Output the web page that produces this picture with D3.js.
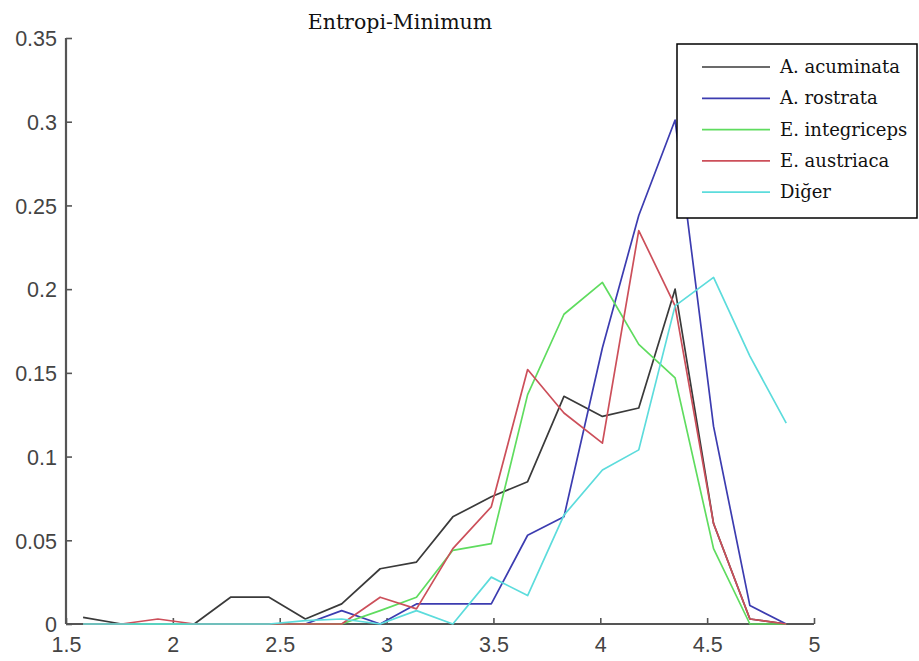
<!DOCTYPE html>
<html><head><meta charset="utf-8">
<script src="https://cdn.jsdelivr.net/npm/d3@7"></script>
<style>body{margin:0;background:#fff}svg{display:block}</style>
</head><body>
<svg id="c" width="919" height="661"></svg>
<script>
const title = "Entropi-Minimum";
const xValues = [1.58,1.76,1.93,2.10,2.27,2.45,2.62,2.79,2.97,3.14,3.31,3.49,3.66,3.83,4.01,4.18,4.35,4.53,4.70,4.87];
const seriesNames = ["A. acuminata","A. rostrata","E. integriceps","E. austriaca","Diğer"];
const seriesColors = ["#3a3a3a","#3c3cb0","#5fdc5f","#cc4f5a","#5cdcdc"];
const acuminata   = [0.004,0,0,0,0.016,0.016,0.003,0.012,0.033,0.037,0.064,0.076,0.085,0.136,0.124,0.129,0.200,0.060,0.003,0];
const rostrata    = [0,0,0,0,0,0,0,0.008,0,0.012,0.012,0.012,0.053,0.064,0.165,0.244,0.301,0.118,0.011,0];
const integriceps = [0,0,0,0,0,0,0,0,0.008,0.016,0.044,0.048,0.137,0.185,0.204,0.167,0.147,0.045,0,0];
const austriaca   = [0,0,0.003,0,0,0,0,0,0.016,0.009,0.045,0.070,0.152,0.126,0.108,0.235,0.190,0.060,0.003,0];
const diger       = [0,0,0,0,0,0,0.002,0.003,0,0.008,0,0.028,0.017,0.065,0.092,0.104,0.190,0.207,0.160,0.120];
const seriesValues = [acuminata, rostrata, integriceps, austriaca, diger];
const xTicks = [1.5,2,2.5,3,3.5,4,4.5,5];
const yTicks = [0,0.05,0.1,0.15,0.2,0.25,0.3,0.35];

const svg = d3.select("#c");
const x = d3.scaleLinear().domain([1.5,5]).range([66,814]);
const y = d3.scaleLinear().domain([0,0.35]).range([624,38]);
const axisColor = "#555";
const serif = "DejaVu Serif, Liberation Serif, serif";

// axes
const xAxis = d3.axisBottom(x).tickValues(xTicks).tickSize(-6).tickFormat(d3.format("~g"));
const gx = svg.append("g").attr("transform","translate(0,624)").call(xAxis);
const yAxis = d3.axisLeft(y).tickValues(yTicks).tickSize(-6).tickPadding(10).tickFormat(d=>d===0?"0":d3.format("~g")(d));
const gy = svg.append("g").attr("transform","translate(66,0)").call(yAxis);
[gx,gy].forEach(g=>{
  g.select(".domain").attr("stroke",axisColor).attr("stroke-width",2.2);
  g.selectAll(".tick line").attr("stroke",axisColor).attr("stroke-width",1.6);
  g.selectAll("text").attr("fill","#444").attr("font-family","Liberation Sans, Arial, sans-serif").attr("font-size",21.5);
});
gx.select(".domain").attr("d","M66,0H814");
gy.select(".domain").attr("d","M0,38V624");
gy.selectAll("text").attr("x",-9).attr("dy","0.36em");
gx.selectAll("text").attr("y",28).attr("dy","0");

// series
const line = d3.line().x((d,i)=>x(xValues[i])).y(d=>y(d));
seriesValues.forEach((vals,k)=>{
  svg.append("path").datum(vals).attr("d",line)
    .attr("fill","none").attr("stroke",seriesColors[k]).attr("stroke-width",1.7)
    .attr("stroke-linejoin","round");
});

// title
svg.append("text").attr("x",400).attr("y",29).attr("text-anchor","middle")
  .attr("font-family",serif).attr("font-size",20.5).attr("fill","#111").text(title);

// legend
const lg = svg.append("g");
lg.append("rect").attr("x",677).attr("y",44).attr("width",240).attr("height",174)
  .attr("fill","#fff").attr("stroke","#000").attr("stroke-width",1.5);
seriesNames.forEach((n,k)=>{
  const yy = 67 + k*31.3;
  lg.append("line").attr("x1",702).attr("x2",770).attr("y1",yy).attr("y2",yy)
    .attr("stroke",seriesColors[k]).attr("stroke-width",1.7);
  lg.append("text").attr("x",780).attr("y",yy+6).attr("font-family",serif)
    .attr("font-size",18).attr("fill","#111").text(n);
});
</script>
</body></html>
